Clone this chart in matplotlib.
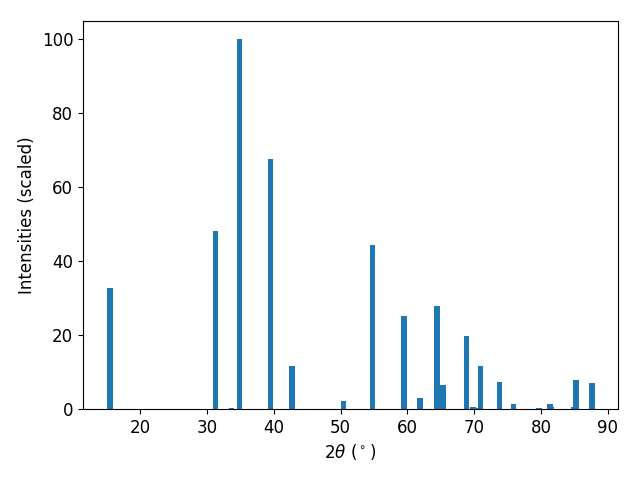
import matplotlib
matplotlib.use("Agg")
import matplotlib.pyplot as plt

two_theta = [15.5, 31.3, 33.7, 34.9, 39.5, 42.7, 50.4, 54.8, 59.5, 61.9,
             64.45, 65.3, 68.8, 69.8, 70.25, 70.9, 73.8, 75.9, 79.7,
             81.55, 81.3, 84.85, 85.2, 87.6]
intensity = [32.8, 48.2, 0.3, 100.0, 67.7, 11.65, 2.2, 44.4, 25.2, 3.0,
             27.9, 6.5, 19.8, 0.5, 0.3, 11.65, 7.3, 1.4, 0.3,
             0.5, 1.4, 0.5, 7.9, 7.0]

fig, ax = plt.subplots(figsize=(6.4, 4.8), dpi=100)
fig.subplots_adjust(left=0.1297, right=0.9656, top=0.9563, bottom=0.1479)
ax.bar(two_theta, intensity, width=0.82, color="#1f77b4")
ax.set_xlim(11.45, 91.5)
ax.set_ylim(0, 105)
ax.set_xlabel(r"$2\theta$ ($^\circ$)", fontsize=12)
ax.set_ylabel("Intensities (scaled)", fontsize=12)
ax.tick_params(labelsize=12)
fig.savefig("out.png", dpi=100)
